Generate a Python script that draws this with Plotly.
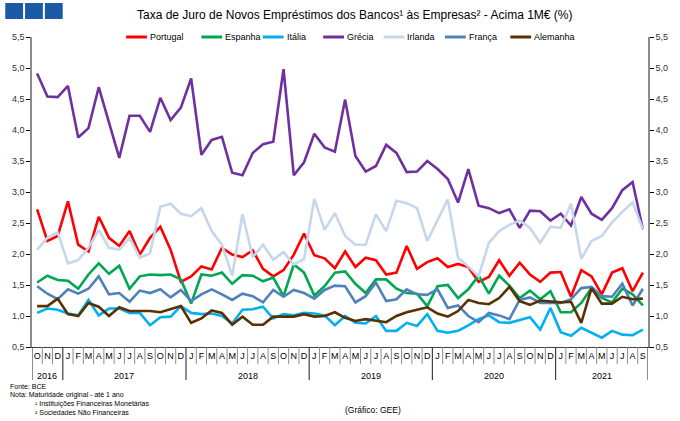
import plotly.graph_objects as go

# ---------------- data ----------------
years_months = [(2016, m) for m in (10, 11, 12)] + [(y, m) for y in (2017, 2018, 2019, 2020) for m in range(1, 13)] + [(2021, m) for m in range(1, 10)]
categories = [f"{y}-{m:02d}" for y, m in years_months]
month_letters = ["J", "F", "M", "A", "M", "J", "J", "A", "S", "O", "N", "D"]
tick_labels = [month_letters[m - 1] for _, m in years_months]
year_labels = ["2016", "2017", "2018", "2019", "2020", "2021"]

portugal = [2.72, 2.21, 2.29, 2.85, 2.15, 2.04, 2.60, 2.26, 2.13, 2.37,
            1.99, 2.26, 2.44, 2.07, 1.55, 1.64, 1.80, 1.75, 2.10, 1.99,
            1.95, 2.06, 1.76, 1.64, 1.74, 1.99, 2.33, 1.98, 1.93, 1.77,
            2.04, 1.79, 1.94, 1.90, 1.67, 1.70, 2.13, 1.76, 1.87, 1.93,
            1.79, 1.84, 1.79, 1.55, 1.63, 1.90, 1.65, 1.86, 1.67, 1.55,
            1.70, 1.71, 1.31, 1.74, 1.64, 1.35, 1.70, 1.77, 1.40, 1.70]
espanha = [1.54, 1.65, 1.58, 1.57, 1.44, 1.67, 1.85, 1.68, 1.81, 1.44,
           1.64, 1.67, 1.66, 1.67, 1.59, 1.20, 1.67, 1.65, 1.70, 1.52,
           1.66, 1.65, 1.56, 1.62, 1.32, 1.83, 1.70, 1.33, 1.48, 1.70,
           1.72, 1.52, 1.37, 1.59, 1.59, 1.44, 1.37, 1.36, 1.16, 1.48,
           1.50, 1.29, 1.43, 1.65, 1.36, 1.65, 1.49, 1.29, 1.41, 1.27,
           1.40, 1.06, 1.06, 1.21, 1.45, 1.29, 1.22, 1.44, 1.35, 1.17]
italia = [1.05, 1.12, 1.10, 1.04, 1.01, 1.26, 1.01, 1.12, 1.12, 1.05,
          1.05, 0.85, 0.98, 0.99, 1.16, 1.05, 1.03, 1.04, 1.00, 0.88,
          1.10, 1.11, 1.15, 0.96, 1.03, 1.01, 1.05, 1.04, 1.01, 0.85,
          1.00, 0.89, 0.88, 1.00, 0.76, 0.76, 0.89, 0.84, 1.03, 0.76,
          0.73, 0.76, 0.85, 0.95, 1.01, 0.90, 0.89, 0.93, 0.98, 0.78,
          1.13, 0.74, 0.68, 0.81, 0.73, 0.65, 0.76, 0.70, 0.69, 0.78]
grecia = [4.91, 4.54, 4.53, 4.71, 3.88, 4.03, 4.69, 4.11, 3.55, 4.23,
          4.23, 3.97, 4.52, 4.16, 4.36, 4.83, 3.60, 3.84, 3.89, 3.31,
          3.27, 3.63, 3.77, 3.81, 4.98, 3.27, 3.48, 3.94, 3.72, 3.65,
          4.49, 3.58, 3.33, 3.42, 3.76, 3.63, 3.32, 3.33, 3.50, 3.37,
          3.21, 2.83, 3.37, 2.78, 2.74, 2.66, 2.72, 2.42, 2.70, 2.69,
          2.54, 2.65, 2.46, 2.92, 2.65, 2.55, 2.74, 3.03, 3.16, 2.40]
irlanda = [2.07, 2.26, 2.35, 1.85, 1.90, 2.10, 2.39, 2.10, 2.07, 2.26,
           1.94, 2.01, 2.76, 2.81, 2.65, 2.61, 2.74, 2.37, 2.15, 1.65,
           2.64, 1.95, 2.15, 1.91, 2.03, 1.83, 1.92, 2.89, 2.39, 2.66,
           2.29, 2.15, 2.15, 2.64, 2.37, 2.86, 2.82, 2.74, 2.21, 2.55,
           2.88, 1.94, 1.80, 1.64, 2.18, 2.37, 2.47, 2.54, 2.42, 2.18,
           2.44, 2.42, 2.81, 1.92, 2.21, 2.29, 2.51, 2.68, 2.83, 2.40]
franca = [1.48, 1.36, 1.27, 1.43, 1.36, 1.44, 1.64, 1.35, 1.37, 1.23,
          1.41, 1.37, 1.43, 1.30, 1.42, 1.24, 1.35, 1.43, 1.35, 1.26,
          1.36, 1.32, 1.22, 1.42, 1.31, 1.42, 1.37, 1.28, 1.42, 1.49,
          1.48, 1.22, 1.32, 1.54, 1.24, 1.27, 1.43, 1.35, 1.34, 1.43,
          1.13, 1.17, 1.00, 0.90, 1.05, 1.01, 0.95, 1.26, 1.30, 1.21,
          1.21, 1.21, 1.27, 1.45, 1.47, 1.32, 1.31, 1.52, 1.17, 1.44]
alemanha = [1.16, 1.16, 1.28, 1.03, 1.00, 1.21, 1.15, 1.00, 1.14, 1.08,
            1.08, 1.08, 1.06, 1.11, 1.16, 0.89, 0.96, 1.09, 1.05, 0.86,
            0.99, 0.86, 0.86, 0.99, 0.99, 0.99, 1.03, 0.99, 1.00, 1.06,
            0.97, 0.92, 0.95, 0.92, 0.90, 1.00, 1.06, 1.10, 1.14, 1.04,
            0.99, 1.08, 1.26, 1.21, 1.19, 1.29, 1.47, 1.24, 1.18, 1.25,
            1.24, 1.22, 1.23, 0.89, 1.45, 1.20, 1.20, 1.31, 1.27, 1.28]

series_names = ["Portugal", "Espanha", "Itália", "Grécia", "Irlanda", "França", "Alemanha"]
series_values = [portugal, espanha, italia, grecia, irlanda, franca, alemanha]
series_colors = ["#FF0000", "#00A650", "#00B0F0", "#7030A0", "#C6D7EC", "#4F81BD", "#5A3000"]

# ---------------- layout geometry ----------------
W, H = 680, 421
ML, MR, MT, MB = 30, 28, 37, 74
PW, PH = W - ML - MR, H - MT - MB
FONT = "Liberation Sans, Arial, sans-serif"


def px_x(px):
    return (px - ML) / PW


def px_y(py):
    return (H - MB - py) / PH


fig = go.Figure()
for name, vals, col in zip(series_names, series_values, series_colors):
    fig.add_trace(go.Scatter(x=categories, y=vals, mode="lines", name=name,
                             line=dict(color=col, width=2.6), showlegend=False,
                             hoverinfo="skip"))
# invisible companion trace so the right-hand (mirror) axis is rendered
fig.add_trace(go.Scatter(x=categories, y=portugal, yaxis="y2", mode="lines",
                         line=dict(color="rgba(0,0,0,0)", width=0), showlegend=False,
                         hoverinfo="skip"))

shapes = []
annotations = []

# logo squares
for x0 in (3, 23, 43):
    shapes.append(dict(type="rect", xref="paper", yref="paper",
                       x0=px_x(x0), x1=px_x(x0 + 18), y0=px_y(19), y1=px_y(3),
                       fillcolor="#1B5BA6", line=dict(width=0)))

# title
annotations.append(dict(text="Taxa de Juro de Novos Empréstimos dos Bancos¹ às Empresas² - Acima 1M€ (%)",
                        xref="paper", yref="paper", x=px_x(356), y=px_y(15),
                        xanchor="center", yanchor="middle", showarrow=False,
                        font=dict(family=FONT, size=12, color="#000")))

# manual legend
legend_starts = [125, 201, 263, 324, 385, 447, 513]
for name, col, lx in zip(series_names, series_colors, legend_starts):
    shapes.append(dict(type="line", xref="paper", yref="paper",
                       x0=px_x(lx), x1=px_x(lx + 21), y0=px_y(37), y1=px_y(37),
                       line=dict(color=col, width=3)))
    annotations.append(dict(text=name, xref="paper", yref="paper",
                            x=px_x(lx + 22), y=px_y(37), xanchor="left", yanchor="middle",
                            showarrow=False, font=dict(family=FONT, size=9, color="#000")))

# month separators and year separators
n = len(categories)
year_bounds = [0]
for i in range(1, n):
    if years_months[i][0] != years_months[i - 1][0]:
        year_bounds.append(i)
year_bounds.append(n)
for k in range(n + 1):
    is_year = k in year_bounds
    shapes.append(dict(type="line", xref="x", yref="paper", ysizemode="pixel", yanchor=0,
                       x0=k - 0.5, x1=k - 0.5, y0=0, y1=-33 if is_year else -17,
                       line=dict(color="#404040" if is_year else "#8c8c8c", width=1.2 if is_year else 1)))

# year labels
for j, yl in enumerate(year_labels):
    a, b = year_bounds[j], year_bounds[j + 1]
    annotations.append(dict(text=yl, xref="x", yref="paper", x=(a + b - 1) / 2, y=0,
                            yshift=-29, xanchor="center", yanchor="middle", showarrow=False,
                            font=dict(family=FONT, size=9, color="#000")))

# footer notes
foot = [("Fonte: BCE", 6, 386), ("Nota: Maturidade original - até 1 ano", 6, 395),
        ("¹ Instituições Financeiras Monetárias", 31, 404), ("² Sociedades Não Financeiras", 31, 412)]
for t, fx, fy in foot:
    annotations.append(dict(text=t, xref="paper", yref="paper", x=px_x(fx), y=px_y(fy),
                            xanchor="left", yanchor="middle", showarrow=False,
                            font=dict(family=FONT, size=7, color="#000")))
annotations.append(dict(text="(Gráfico: GEE)", xref="paper", yref="paper", x=px_x(374), y=px_y(410),
                        xanchor="center", yanchor="middle", showarrow=False,
                        font=dict(family=FONT, size=8.5, color="#000")))

yaxis_style = dict(range=[0.5, 5.5], dtick=0.5, tick0=0.5, tickformat=".1f",
                   showgrid=False, zeroline=False, showline=True, linecolor="#8c8c8c", linewidth=1.6,
                   ticks="outside", ticklen=4, tickcolor="#000", tickwidth=1,
                   tickfont=dict(family=FONT, size=9, color="#333"))

fig.update_layout(
    width=W, height=H, margin=dict(l=ML, r=MR, t=MT, b=MB),
    paper_bgcolor="white", plot_bgcolor="white",
    separators=", ",
    showlegend=False,
    xaxis=dict(type="category", range=[-0.5, n - 0.5], tickmode="array",
               tickvals=categories, ticktext=tick_labels, ticks="",
               showgrid=False, zeroline=False, showline=True, linecolor="#404040", linewidth=1,
               tickangle=0, tickfont=dict(family=FONT, size=9, color="#000")),
    yaxis=dict(**yaxis_style, side="left"),
    yaxis2=dict(**yaxis_style, side="right", overlaying="y", anchor="x"),
    shapes=shapes, annotations=annotations,
)

fig.write_html("out.html")
